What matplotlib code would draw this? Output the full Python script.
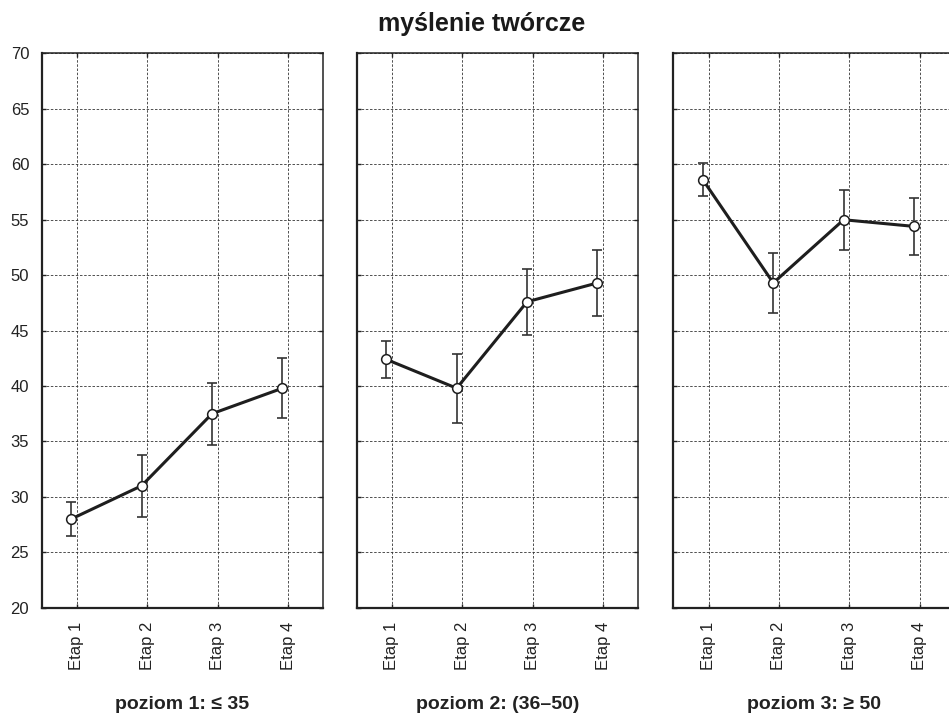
import matplotlib
matplotlib.use("Agg")
import matplotlib.pyplot as plt

plt.rcParams["font.family"] = ["Liberation Sans", "DejaVu Sans"]

# data
etapy = ["Etap 1", "Etap 2", "Etap 3", "Etap 4"]
poziomy = ["poziom 1: \u2264 35", "poziom 2: (36\u201350)", "poziom 3: \u2265 50"]
srednie_1 = [28.0, 31.0, 37.5, 39.8]
srednie_2 = [42.4, 39.8, 47.6, 49.3]
srednie_3 = [58.6, 49.3, 55.0, 54.4]
bledy_1 = [1.5, 2.8, 2.8, 2.7]
bledy_2 = [1.7, 3.1, 3.0, 3.0]
bledy_3 = [1.5, 2.7, 2.7, 2.6]
srednie = [srednie_1, srednie_2, srednie_3]
bledy = [bledy_1, bledy_2, bledy_3]

fig = plt.figure(figsize=(9.49, 7.14), dpi=100)
lefts = [0.0439, 0.3759, 0.7095]
w, b, h = 0.2967, 0.1489, 0.7762

xs = [i + 1 for i in range(len(etapy))]
for k in range(3):
    ax = fig.add_axes([lefts[k], b, w, h])
    xp = [x - 0.08 for x in xs]
    ax.errorbar(xp, srednie[k], yerr=bledy[k], fmt='none', ecolor='#333333',
                elinewidth=1.2, capsize=3.5, capthick=1.2, zorder=3)
    ax.plot(xp, srednie[k], '-o', color='#1e1e1e', lw=2.2, markersize=7,
            markerfacecolor='white', markeredgecolor='#1e1e1e', markeredgewidth=1.1, zorder=4)
    ax.set_xlim(0.5, 4.5)
    ax.set_ylim(20, 70)
    ax.set_xticks(xs)
    ax.set_xticklabels(etapy, rotation=90, fontsize=12, color='#333333')
    ax.set_yticks(range(20, 71, 5))
    if k == 0:
        ax.tick_params(axis='y', labelsize=12, labelcolor='#222222', pad=9)
    else:
        ax.tick_params(axis='y', labelleft=False)
    ax.tick_params(direction='in', length=3, width=1, top=True, right=True, colors='#222222')
    ax.tick_params(axis='x', pad=10)
    ax.grid(True, linestyle=(0, (3, 2)), color='#333333', linewidth=0.6)
    for side in ['left', 'bottom']:
        ax.spines[side].set_linewidth(1.6)
    for side in ['top', 'right']:
        ax.spines[side].set_linewidth(1.1)
    for s in ax.spines.values():
        s.set_color('#222222')
    ax.text(0.5, -0.16, poziomy[k], transform=ax.transAxes, ha='center', va='top',
            fontsize=14, fontweight='bold', color='#222222')

fig.text(0.508, 0.966, "my\u015blenie tw\u00f3rcze", ha='center', va='center',
         fontsize=18, fontweight='bold', color='#1a1a1a')

fig.savefig("out.png", dpi=100)
